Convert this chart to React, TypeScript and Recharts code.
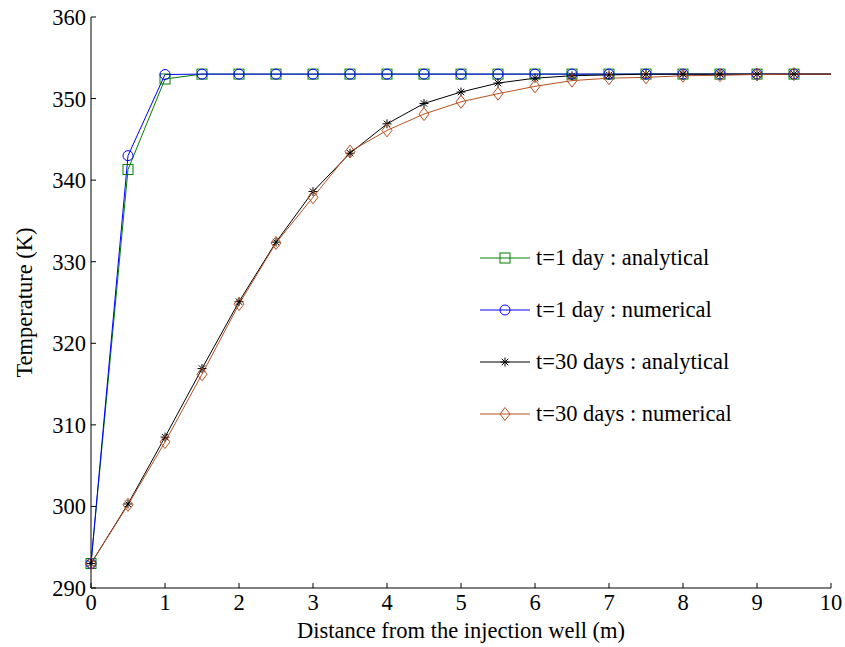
import { LineChart, Line, XAxis, YAxis, Legend } from "recharts";

// distance from the injection well (m)
const distance = [0, 0.5, 1, 1.5, 2, 2.5, 3, 3.5, 4, 4.5, 5, 5.5, 6, 6.5, 7, 7.5, 8, 8.5, 9, 9.5, 10];

// temperature (K) for each profile
const t1Analytical = [293, 341.3, 352.4, 353, 353, 353, 353, 353, 353, 353, 353, 353, 353, 353, 353, 353, 353, 353, 353, 353, 353];
const t1Numerical = [293, 343, 352.95, 353, 353, 353, 353, 353, 353, 353, 353, 353, 353, 353, 353, 353, 353, 353, 353, 353, 353];
const t30Analytical = [293, 300.3, 308.5, 316.9, 325.1, 332.4, 338.6, 343.3, 346.9, 349.4, 350.8, 351.9, 352.5, 352.8, 352.9, 353, 353, 353, 353, 353, 353];
const t30Numerical = [293, 300.2, 307.9, 316.2, 324.8, 332.3, 337.9, 343.5, 346.1, 348.1, 349.6, 350.6, 351.5, 352.2, 352.5, 352.6, 352.8, 352.85, 352.95, 353, 353];

const xTicks = [0, 1, 2, 3, 4, 5, 6, 7, 8, 9, 10];
const yTicks = [290, 300, 310, 320, 330, 340, 350, 360];

const data = distance.map((x, i) => ({
  x,
  t1a: t1Analytical[i],
  t1n: t1Numerical[i],
  t30a: t30Analytical[i],
  t30n: t30Numerical[i],
}));

const FONT = "'Liberation Serif', 'Times New Roman', serif";
const FS = 22.5;

type Shape = "square" | "circle" | "star" | "diamond";

const series: { key: string; name: string; color: string; shape: Shape }[] = [
  { key: "t1a", name: "t=1 day : analytical", color: "#008000", shape: "square" },
  { key: "t1n", name: "t=1 day : numerical", color: "#0000ff", shape: "circle" },
  { key: "t30a", name: "t=30 days : analytical", color: "#000000", shape: "star" },
  { key: "t30n", name: "t=30 days : numerical", color: "#b8501e", shape: "diamond" },
];

function Marker({ cx, cy, shape, color }: { cx: number; cy: number; shape: Shape; color: string }) {
  if (shape === "square") {
    return <rect x={cx - 5} y={cy - 5} width={10} height={10} fill="none" stroke={color} strokeWidth={1} />;
  }
  if (shape === "circle") {
    return <circle cx={cx} cy={cy} r={5} fill="none" stroke={color} strokeWidth={1} />;
  }
  if (shape === "diamond") {
    return (
      <path
        d={`M${cx},${cy - 6.5}L${cx + 5},${cy}L${cx},${cy + 6.5}L${cx - 5},${cy}Z`}
        fill="none"
        stroke={color}
        strokeWidth={1}
      />
    );
  }
  const d = 3.2;
  return (
    <path
      d={`M${cx - 4.5},${cy}H${cx + 4.5}M${cx},${cy - 4.5}V${cy + 4.5}M${cx - d},${cy - d}L${cx + d},${cy + d}M${cx - d},${cy + d}L${cx + d},${cy - d}`}
      stroke={color}
      strokeWidth={1}
    />
  );
}

// markers on every point except the last one at x = 10
const dotFor = (shape: Shape, color: string) => (props: any) => {
  const { cx, cy, index, payload } = props;
  if (payload.x >= 10) return <g key={`d-${index}`} />;
  return (
    <g key={`d-${index}`}>
      <Marker cx={cx} cy={cy} shape={shape} color={color} />
    </g>
  );
};

const renderLegend = () => (
  <div style={{ fontFamily: FONT, fontSize: FS, color: "#000" }}>
    {series.map((s) => (
      <div key={s.key} style={{ display: "flex", alignItems: "center", height: 52 }}>
        <svg width={59} height={20} style={{ overflow: "visible" }}>
          <line x1={3} y1={10} x2={53} y2={10} stroke={s.color} strokeWidth={1} />
          <Marker cx={28} cy={10} shape={s.shape} color={s.color} />
        </svg>
        <span style={{ whiteSpace: "nowrap" }}>{s.name}</span>
      </div>
    ))}
  </div>
);

export default function App() {
  return (
    <div style={{ position: "absolute", left: 0, top: 0, background: "#fff" }}>
      <LineChart width={845} height={647} data={data} margin={{ top: 17, right: 14, bottom: 0, left: 0 }}>
        <XAxis
          dataKey="x"
          type="number"
          domain={[0, 10]}
          ticks={xTicks}
          height={59}
          tickSize={-5}
          tickMargin={11}
          stroke="#000"
          tick={{ fill: "#000", fontFamily: FONT, fontSize: FS }}
          label={{
            value: "Distance from the injection well (m)",
            position: "insideBottom",
            offset: 9,
            fill: "#000",
            fontFamily: FONT,
            fontSize: FS,
          }}
        />
        <YAxis
          type="number"
          domain={[290, 360]}
          ticks={yTicks}
          width={91}
          tickSize={-5}
          tickMargin={10}
          stroke="#000"
          tick={{ fill: "#000", fontFamily: FONT, fontSize: FS }}
          label={{
            value: "Temperature (K)",
            angle: -90,
            position: "insideLeft",
            offset: 24,
            fill: "#000",
            fontFamily: FONT,
            fontSize: FS,
            style: { textAnchor: "middle" },
          }}
        />
        <Legend
          content={renderLegend}
          layout="vertical"
          align="center"
          verticalAlign="middle"
          wrapperStyle={{ position: "absolute", left: 477, top: 232, width: 300 }}
        />
        {series.map((s) => (
          <Line
            key={s.key}
            dataKey={s.key}
            name={s.name}
            type="linear"
            stroke={s.color}
            strokeWidth={1}
            dot={dotFor(s.shape, s.color)}
            activeDot={false}
            isAnimationActive={false}
          />
        ))}
      </LineChart>
    </div>
  );
}
